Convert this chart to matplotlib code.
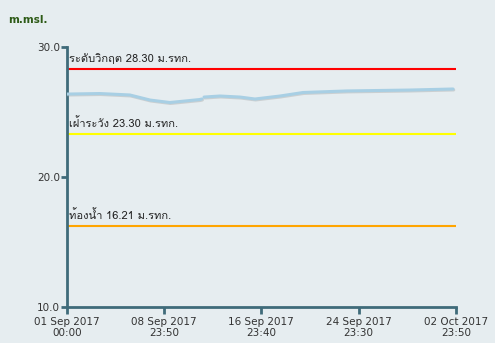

# water level chart (m.msl.)

import matplotlib
matplotlib.use("Agg")
import matplotlib.pyplot as plt
import matplotlib.patheffects as pe
from matplotlib import font_manager, ft2font
import numpy as np
import pandas as pd

# water level readings (NaN = gap in the record)
times = ["2017-09-01 00:00", "2017-09-03 17:00", "2017-09-06 04:00", "2017-09-07 20:00",
         "2017-09-09 11:00", "2017-09-11 22:00", "2017-09-12 02:00", "2017-09-12 04:00",
         "2017-09-12 06:30", "2017-09-13 14:00", "2017-09-15 05:30", "2017-09-16 11:00",
         "2017-09-18 12:30", "2017-09-20 10:00", "2017-09-24 00:45", "2017-09-29 05:00",
         "2017-10-02 18:00"]
levels = [26.38, 26.42, 26.31, 25.92, 25.73, 25.96, 26.00, np.nan,
          26.15, 26.23, 26.15, 26.00, 26.23, 26.50, 26.62, 26.69, 26.77]

# reference levels
ref_labels = ["ระดับวิกฤต 28.30 ม.รทก.", "เฝ้าระวัง 23.30 ม.รทก.", "ท้องน้ำ 16.21 ม.รทก."]
ref_values = [28.30, 23.30, 16.21]
ref_colors = ["#ff0000", "#ffff00", "#ffa500"]

tick_times = ["2017-09-01 00:00", "2017-09-08 23:50", "2017-09-16 23:40",
              "2017-09-24 23:30", "2017-10-02 23:50"]
y_ticks = [10, 20, 30]


def find_thai_font():
    for f in font_manager.fontManager.ttflist:
        try:
            if 0x0E23 in ft2font.FT2Font(f.fname).get_charmap():
                return f.name
        except Exception:
            pass
    return None

thai = find_thai_font()
fam = [thai, "DejaVu Sans"] if thai else ["DejaVu Sans"]

t = pd.to_datetime(times)
ticks = pd.to_datetime(tick_times)

fig = plt.figure(figsize=(4.95, 3.43), dpi=100)
fig.patch.set_facecolor("#e6edf0")
ax = fig.add_axes([67/495, 1-307/343, (456-67)/495, (307-47)/343])
ax.set_facecolor("none")

axis_c = "#3f6b7a"
for s in ["top", "right"]:
    ax.spines[s].set_visible(False)
for s in ["left", "bottom"]:
    ax.spines[s].set_color(axis_c)
    ax.spines[s].set_linewidth(2)

ax.set_xlim(ticks[0], ticks[-1])
ax.set_ylim(10, 30)

for lab, v, c in zip(ref_labels, ref_values, ref_colors):
    ax.axhline(v, color=c, lw=1.5, zorder=2)
    ax.annotate(lab, (ticks[0], v), xytext=(1.5, 3.5), textcoords="offset points",
                fontsize=8, family=fam, color="#222222", va="bottom", ha="left")

ax.plot(t, levels, color="#a8cfe4", lw=2.2, solid_capstyle="round", zorder=3,
        path_effects=[pe.SimpleLineShadow(offset=(0.5, -0.7), shadow_color="#999999", alpha=0.35),
                      pe.Normal()])

ax.set_xticks(ticks)
ax.set_xticklabels([d.strftime("%d %b %Y\n%H:%M") for d in ticks], fontsize=7.5, color="#333333")
ax.set_yticks(y_ticks)
ax.set_yticklabels([f"{v:.1f}" for v in y_ticks], fontsize=7.5, color="#333333")
ax.tick_params(axis="x", length=5, width=2, color=axis_c, pad=2)
ax.tick_params(axis="y", length=4, width=2, color=axis_c, pad=1)

fig.text(8/495, 1-20/343, "m.msl.", fontsize=7.5, fontweight="bold", color="#2e5b17",
         va="center", ha="left")

fig.savefig("out.png", dpi=100, facecolor=fig.get_facecolor())
